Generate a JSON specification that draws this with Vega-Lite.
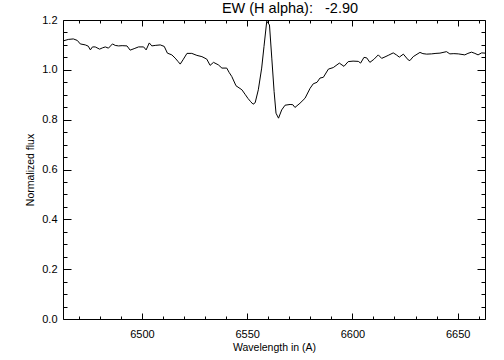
{
  "$schema": "https://vega.github.io/schema/vega-lite/v6.json",
  "width": 422,
  "height": 299,
  "autosize": {"type": "none"},
  "padding": {"left": 63, "top": 20, "right": 19, "bottom": 41},
  "background": "white",
  "config": {
    "view": {"stroke": "black", "strokeWidth": 1},
    "font": "Liberation Sans",
    "axis": {"domain": false, "grid": false, "tickColor": "black", "labelColor": "black", "titleColor": "black", "labelFont": "Liberation Sans", "titleFont": "Liberation Sans", "titleFontWeight": "normal", "labelFontSize": 11, "titleFontSize": 10.5}
  },
  "title": {"text": "EW (H alpha):\u00a0\u00a0\u00a0-2.90", "font": "Liberation Sans", "fontSize": 14.5, "fontWeight": "normal", "color": "black", "anchor": "middle", "dx": 16, "dy": 2, "offset": 0},
  "data": {"values": [
    {"w": 6462.6, "f": 1.116}, {"w": 6465.0, "f": 1.122}, {"w": 6467.4, "f": 1.124}, {"w": 6469.3, "f": 1.118},
    {"w": 6470.7, "f": 1.104}, {"w": 6473.1, "f": 1.100}, {"w": 6474.5, "f": 1.095}, {"w": 6475.5, "f": 1.080},
    {"w": 6476.5, "f": 1.092}, {"w": 6477.8, "f": 1.092}, {"w": 6479.9, "f": 1.083}, {"w": 6481.2, "f": 1.088},
    {"w": 6482.6, "f": 1.092}, {"w": 6484.1, "f": 1.087}, {"w": 6486.0, "f": 1.104}, {"w": 6487.3, "f": 1.098},
    {"w": 6488.9, "f": 1.096}, {"w": 6490.6, "f": 1.097}, {"w": 6492.9, "f": 1.096}, {"w": 6494.4, "f": 1.079},
    {"w": 6496.3, "f": 1.085}, {"w": 6498.4, "f": 1.092}, {"w": 6500.8, "f": 1.092}, {"w": 6502.0, "f": 1.080},
    {"w": 6503.5, "f": 1.108}, {"w": 6504.7, "f": 1.096}, {"w": 6506.3, "f": 1.098}, {"w": 6508.7, "f": 1.100},
    {"w": 6510.6, "f": 1.094}, {"w": 6512.1, "f": 1.067}, {"w": 6514.2, "f": 1.060}, {"w": 6515.8, "f": 1.047},
    {"w": 6517.2, "f": 1.033}, {"w": 6518.2, "f": 1.023}, {"w": 6519.5, "f": 1.040}, {"w": 6521.4, "f": 1.066},
    {"w": 6523.7, "f": 1.066}, {"w": 6526.1, "f": 1.058}, {"w": 6528.5, "f": 1.053}, {"w": 6530.8, "f": 1.043},
    {"w": 6532.4, "f": 1.018}, {"w": 6534.0, "f": 1.030}, {"w": 6536.3, "f": 1.020}, {"w": 6538.0, "f": 1.007},
    {"w": 6540.3, "f": 1.007}, {"w": 6541.4, "f": 0.990}, {"w": 6542.7, "f": 0.973}, {"w": 6544.7, "f": 0.936},
    {"w": 6547.5, "f": 0.920}, {"w": 6549.0, "f": 0.902}, {"w": 6550.4, "f": 0.885}, {"w": 6551.7, "f": 0.872},
    {"w": 6552.8, "f": 0.862}, {"w": 6553.8, "f": 0.868}, {"w": 6555.3, "f": 0.920}, {"w": 6556.9, "f": 1.007},
    {"w": 6558.0, "f": 1.094}, {"w": 6559.3, "f": 1.195}, {"w": 6560.6, "f": 1.180}, {"w": 6561.7, "f": 1.047},
    {"w": 6562.8, "f": 0.913}, {"w": 6563.7, "f": 0.826}, {"w": 6564.9, "f": 0.806}, {"w": 6566.4, "f": 0.839},
    {"w": 6568.0, "f": 0.858}, {"w": 6570.4, "f": 0.861}, {"w": 6571.7, "f": 0.860}, {"w": 6572.7, "f": 0.849},
    {"w": 6575.1, "f": 0.866}, {"w": 6577.5, "f": 0.886}, {"w": 6579.9, "f": 0.926}, {"w": 6581.4, "f": 0.944},
    {"w": 6583.2, "f": 0.950}, {"w": 6584.6, "f": 0.967}, {"w": 6586.2, "f": 0.970}, {"w": 6588.6, "f": 1.003},
    {"w": 6590.9, "f": 1.009}, {"w": 6593.8, "f": 1.027}, {"w": 6596.0, "f": 1.014}, {"w": 6598.0, "f": 1.033},
    {"w": 6600.3, "f": 1.035}, {"w": 6602.8, "f": 1.034}, {"w": 6603.9, "f": 1.027}, {"w": 6605.5, "f": 1.050},
    {"w": 6606.8, "f": 1.048}, {"w": 6608.3, "f": 1.030}, {"w": 6610.2, "f": 1.042}, {"w": 6612.3, "f": 1.060},
    {"w": 6613.9, "f": 1.046}, {"w": 6615.5, "f": 1.052}, {"w": 6617.0, "f": 1.058}, {"w": 6619.4, "f": 1.068},
    {"w": 6620.9, "f": 1.060}, {"w": 6622.3, "f": 1.051}, {"w": 6624.2, "f": 1.063}, {"w": 6626.5, "f": 1.040},
    {"w": 6627.3, "f": 1.037}, {"w": 6628.9, "f": 1.053}, {"w": 6632.1, "f": 1.070}, {"w": 6633.5, "f": 1.065},
    {"w": 6635.3, "f": 1.063}, {"w": 6637.6, "f": 1.064}, {"w": 6639.7, "f": 1.066}, {"w": 6641.6, "f": 1.067},
    {"w": 6644.7, "f": 1.073}, {"w": 6646.3, "f": 1.064}, {"w": 6648.2, "f": 1.065}, {"w": 6650.3, "f": 1.064},
    {"w": 6653.4, "f": 1.060}, {"w": 6654.9, "f": 1.066}, {"w": 6656.6, "f": 1.071}, {"w": 6658.2, "f": 1.066},
    {"w": 6659.7, "f": 1.060}, {"w": 6661.4, "f": 1.068}, {"w": 6663.0, "f": 1.067}
  ]},
  "layer": [
    {
      "mark": {"type": "line", "color": "black", "strokeWidth": 1, "clip": true},
      "encoding": {
        "x": {"field": "w", "type": "quantitative", "scale": {"domain": [6462.5, 6663], "nice": false, "zero": false},
              "axis": {"orient": "bottom", "values": [6500, 6550, 6600, 6650], "tickSize": -6, "labelPadding": 15, "title": "Wavelength in (A)", "titlePadding": 3, "format": "d"}},
        "y": {"field": "f", "type": "quantitative", "scale": {"domain": [0, 1.2], "nice": false, "zero": false},
              "axis": {"orient": "left", "values": [0, 0.2, 0.4, 0.6, 0.8, 1.0, 1.2], "tickSize": -8, "labelPadding": 14, "title": "Normalized flux", "titlePadding": 6, "format": ".1f"}}
      }
    },
    {
      "mark": {"type": "line", "opacity": 0},
      "encoding": {
        "x": {"field": "w", "type": "quantitative", "axis": {"orient": "bottom", "values": [6470, 6480, 6490, 6510, 6520, 6530, 6540, 6560, 6570, 6580, 6590, 6610, 6620, 6630, 6640, 6660], "tickSize": -3, "labels": false, "title": null}},
        "y": {"field": "f", "type": "quantitative", "axis": {"orient": "left", "values": [0.05, 0.1, 0.15, 0.25, 0.3, 0.35, 0.45, 0.5, 0.55, 0.65, 0.7, 0.75, 0.85, 0.9, 0.95, 1.05, 1.1, 1.15], "tickSize": -4, "labels": false, "title": null}}
      }
    },
    {
      "mark": {"type": "line", "opacity": 0},
      "encoding": {
        "x": {"field": "w", "type": "quantitative", "axis": {"orient": "top", "values": [6500, 6550, 6600, 6650], "tickSize": -6, "labels": false, "title": null}},
        "y": {"field": "f", "type": "quantitative", "axis": {"orient": "right", "values": [0, 0.2, 0.4, 0.6, 0.8, 1.0, 1.2], "tickSize": -8, "labels": false, "title": null}}
      }
    },
    {
      "mark": {"type": "line", "opacity": 0},
      "encoding": {
        "x": {"field": "w", "type": "quantitative", "axis": {"orient": "top", "values": [6470, 6480, 6490, 6510, 6520, 6530, 6540, 6560, 6570, 6580, 6590, 6610, 6620, 6630, 6640, 6660], "tickSize": -3, "labels": false, "title": null}},
        "y": {"field": "f", "type": "quantitative", "axis": {"orient": "right", "values": [0.05, 0.1, 0.15, 0.25, 0.3, 0.35, 0.45, 0.5, 0.55, 0.65, 0.7, 0.75, 0.85, 0.9, 0.95, 1.05, 1.1, 1.15], "tickSize": -4, "labels": false, "title": null}}
      }
    }
  ],
  "resolve": {"axis": {"x": "independent", "y": "independent"}}
}
